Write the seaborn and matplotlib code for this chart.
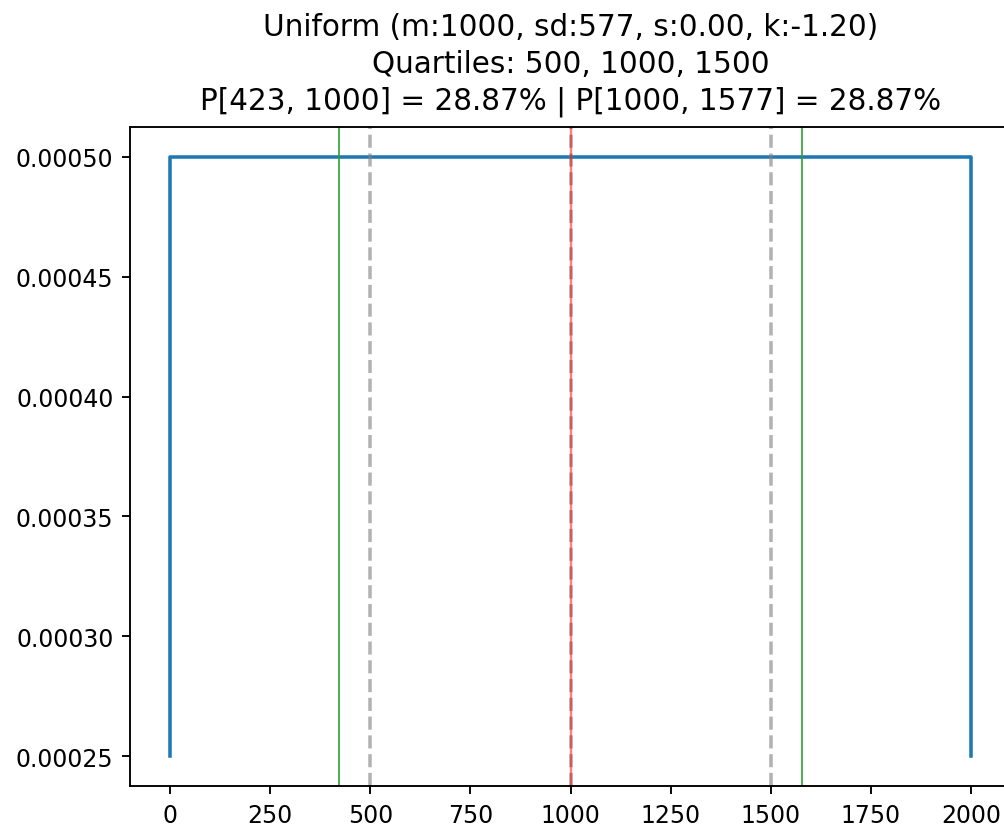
import matplotlib
matplotlib.use("Agg")
import matplotlib.pyplot as plt
import seaborn as sns
import pandas as pd

# Uniform(0, 2000) density trace
x_vals = [0, 0, 2000, 2000]
pdf_vals = [0.00025, 0.0005, 0.0005, 0.00025]

# summary markers
quartiles = [500, 1000, 1500]
median = 1000
sd_bounds = [423, 1577]

x_ticks = [0, 250, 500, 750, 1000, 1250, 1500, 1750, 2000]
y_ticks = [0.00025, 0.00030, 0.00035, 0.00040, 0.00045, 0.00050]

title = ("Uniform (m:1000, sd:577, s:0.00, k:-1.20)\n"
         "Quartiles: 500, 1000, 1500\n"
         "P[423, 1000] = 28.87% | P[1000, 1577] = 28.87%")

DPI = 170
fig = plt.figure(figsize=(1004 / DPI, 828 / DPI), dpi=DPI)
ax = fig.add_axes([130 / 1004, 41 / 828, 881 / 1004, 659 / 828])

df = pd.DataFrame({"x": x_vals, "pdf": pdf_vals})
sns.lineplot(data=df, x="x", y="pdf", sort=False, estimator=None,
             color="tab:blue", linewidth=1.5, ax=ax)

for q in quartiles:
    ax.axvline(q, color="gray", linestyle="--", linewidth=1.5, alpha=0.6)
ax.axvline(median, color="red", linewidth=1.0, alpha=0.5)
for b in sd_bounds:
    ax.axvline(b, color="tab:green", linewidth=0.7)

ax.set_xticks(x_ticks)
ax.set_yticks(y_ticks)
ax.set_xlabel("")
ax.set_ylabel("")
ax.set_title(title, fontsize=12.5, linespacing=1.32, pad=8)

fig.savefig("out.png", dpi=DPI)
